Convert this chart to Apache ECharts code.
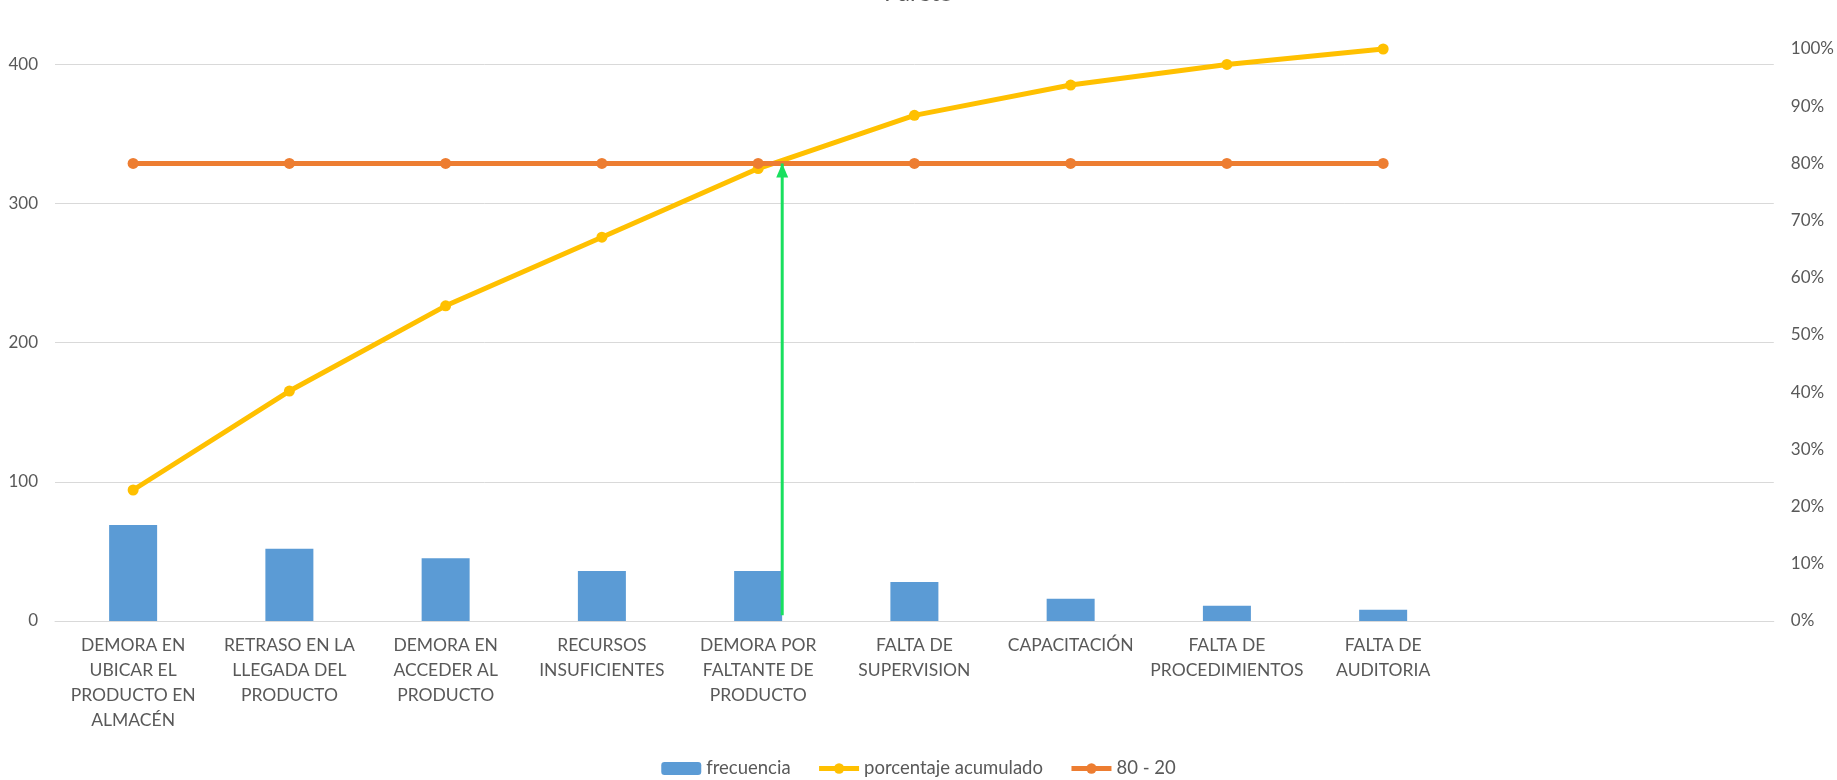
<!DOCTYPE html>
<html>
<head>
<meta charset="utf-8">
<script src="https://cdn.jsdelivr.net/npm/echarts@6/dist/echarts.min.js"></script>
<style>
  html, body { margin: 0; padding: 0; background: #fff; }
  #chart { width: 1837px; height: 780px; }
</style>
</head>
<body>
<div id="chart"></div>
<script>
// categorias del diagrama (las dos ultimas vacias como en el original)
const categorias = [
  'DEMORA EN\nUBICAR EL\nPRODUCTO EN\nALMACÉN',
  'RETRASO EN LA\nLLEGADA DEL\nPRODUCTO',
  'DEMORA EN\nACCEDER AL\nPRODUCTO',
  'RECURSOS\nINSUFICIENTES',
  'DEMORA POR\nFALTANTE DE\nPRODUCTO',
  'FALTA DE\nSUPERVISION',
  'CAPACITACIÓN',
  'FALTA DE\nPROCEDIMIENTOS',
  'FALTA DE\nAUDITORIA',
  '',
  ''
];
const frecuencia = [69, 52, 45, 36, 36, 28, 16, 11, 8];
const acumulado = [0.229, 0.402, 0.551, 0.671, 0.791, 0.884, 0.937, 0.973, 1.0];
const ochentaVeinte = [0.8, 0.8, 0.8, 0.8, 0.8, 0.8, 0.8, 0.8, 0.8];
// flecha verde: posicion en unidades de categoria y limite 80%
const flechaX = 4.654;
const flechaY = [0.01, 0.8];

const gris = '#595959';
const fuente = 'Lato';

const chart = echarts.init(document.getElementById('chart'));
const op = {
  backgroundColor: '#fff',
  animation: false,
  textStyle: { fontFamily: fuente },
  title: {
    text: 'Pareto',
    left: 'center',
    top: -24,
    textStyle: { fontFamily: fuente, fontSize: 24, fontWeight: 'normal', color: gris }
  },
  legend: {
    data: ['frecuencia', 'porcentaje acumulado', '80 - 20'],
    top: 754,
    left: 'center',
    itemWidth: 40,
    itemHeight: 13,
    itemGap: 26,
    lineStyle: { width: 5 },
    textStyle: { fontFamily: fuente, fontSize: 18.5, color: gris }
  },
  grid: { left: 55, right: 62, top: 49, bottom: 159 },
  xAxis: [
    {
      type: 'category',
      data: categorias,
      axisLine: { lineStyle: { color: '#d9d9d9', width: 1 } },
      axisTick: { show: false },
      axisLabel: {
        interval: 0,
        color: gris,
        fontFamily: fuente,
        fontSize: 17.5,
        lineHeight: 25,
        margin: 12,
        align: 'center'
      }
    },
    {
      type: 'value',
      min: 0,
      max: categorias.length,
      show: false
    }
  ],
  yAxis: [
    {
      type: 'value',
      min: 0,
      max: 411,
      interval: 100,
      axisLine: { show: false },
      axisTick: { show: false },
      axisLabel: {
        color: gris, fontFamily: fuente, fontSize: 17, margin: 17,
        showMaxLabel: false
      },
      splitLine: { showMaxLine: false, lineStyle: { color: '#d9d9d9', width: 1 } }
    },
    {
      type: 'value',
      position: 'right',
      min: 0,
      max: 1,
      interval: 0.1,
      axisLine: { show: false },
      axisTick: { show: false },
      splitLine: { show: false },
      axisLabel: {
        color: gris, fontFamily: fuente, fontSize: 17, margin: 17,
        formatter: v => Math.round(v * 100) + '%'
      }
    }
  ],
  series: [
    {
      name: 'frecuencia',
      type: 'bar',
      data: frecuencia,
      barWidth: 48,
      itemStyle: { color: '#5b9bd5' }
    },
    {
      name: 'porcentaje acumulado',
      type: 'line',
      yAxisIndex: 1,
      data: acumulado,
      symbol: 'circle',
      symbolSize: 11,
      lineStyle: { color: '#ffc000', width: 5 },
      itemStyle: { color: '#ffc000' }
    },
    {
      name: '80 - 20',
      type: 'line',
      yAxisIndex: 1,
      data: ochentaVeinte,
      symbol: 'circle',
      symbolSize: 11,
      lineStyle: { color: '#ed7d31', width: 5 },
      itemStyle: { color: '#ed7d31' }
    },
    {
      name: 'flecha',
      type: 'line',
      xAxisIndex: 1,
      yAxisIndex: 1,
      data: [
        { value: [flechaX, flechaY[0]], symbol: 'none' },
        { value: [flechaX, flechaY[1]], symbol: 'triangle', symbolSize: [12, 14], symbolOffset: [0, '50%'] }
      ],
      lineStyle: { color: '#19e05f', width: 3 },
      itemStyle: { color: '#19e05f' },
      z: 5
    }
  ]
};
chart.setOption(op);
</script>
</body>
</html>
